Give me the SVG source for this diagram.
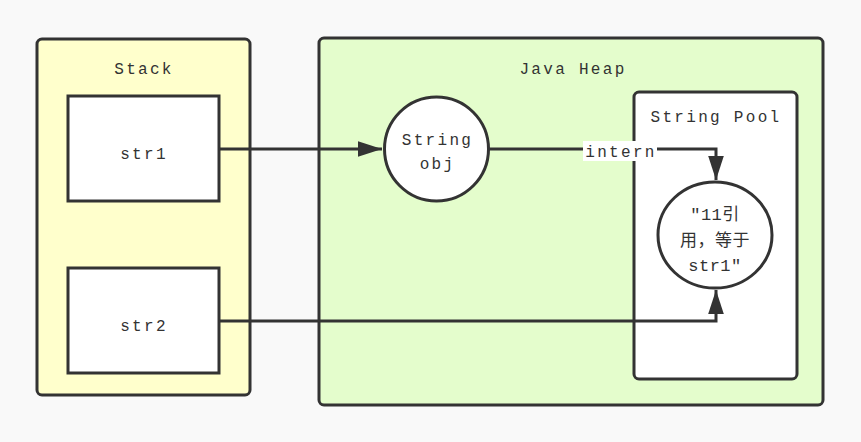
<svg xmlns="http://www.w3.org/2000/svg" width="861" height="442" viewBox="0 0 861 442">
<style>
text{font-family:"Liberation Mono","Noto Sans CJK SC",monospace;font-size:16px;fill:#333;text-anchor:middle;letter-spacing:2.3px}
.c{stroke:#333;stroke-width:3}
.e{fill:none;stroke:#333;stroke-width:3}
.cjk{letter-spacing:0.5px;font-size:17px}
</style>
<defs>
<marker id="ah" markerWidth="8" markerHeight="6" refX="8" refY="3" orient="auto" markerUnits="strokeWidth">
<path d="M0,0.4 L8,3 L0,5.6 Z" fill="#333"/>
</marker>
</defs>
<rect width="861" height="442" fill="#f9f9f9"/>
<g id="stack">
<rect x="37" y="39" width="213" height="356" rx="5" fill="#ffffcc" class="c"/>
<text x="144" y="74">Stack</text>
</g>
<g id="heap">
<rect x="319" y="38" width="504" height="367" rx="5" fill="#e4fdcc" class="c"/>
<text x="573" y="74">Java Heap</text>
</g>
<g id="pool">
<rect x="634" y="92" width="163" height="287" rx="5" fill="#fff" class="c"/>
<text x="716" y="122">String Pool</text>
</g>
<g id="str1">
<rect x="68" y="96" width="151" height="105" fill="#fff" class="c"/>
<text x="144" y="159">str1</text>
</g>
<g id="str2">
<rect x="68" y="268" width="151" height="105" fill="#fff" class="c"/>
<text x="144" y="331">str2</text>
</g>
<g id="obj">
<circle cx="436.5" cy="149" r="52" fill="#fff" class="c"/>
<text x="437.5" y="145">String</text>
<text x="437.5" y="169">obj</text>
</g>
<g id="pooled">
<ellipse cx="715" cy="235" rx="57" ry="53" fill="#fff" class="c"/>
<text x="715" y="220" class="cjk">″11引</text>
<text x="715" y="246" class="cjk">用，等于</text>
<text x="715" y="271" class="cjk">str1″</text>
</g>
<g id="connectors">
<path d="M219,149 H382" class="e" marker-end="url(#ah)"/>
<path d="M489,149 H716 V180" class="e" marker-end="url(#ah)"/>
<path d="M219,321 H716 V290" class="e" marker-end="url(#ah)"/>
<rect x="583" y="141" width="74" height="20" fill="#fff"/>
<text x="621" y="157">intern</text>
</g>
</svg>
